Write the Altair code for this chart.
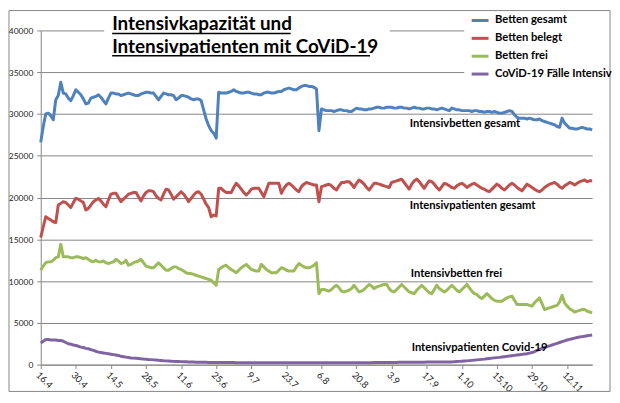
import altair as alt
import pandas as pd

# ---------------- data ----------------
tick_labels = ["16.4", "30.4", "14.5", "28.5", "11.6", "25.6", "9.7", "23.7",
               "6.8", "20.8", "3.9", "17.9", "1.10", "15.10", "29.10", "12.11"]

series_names = ["Betten gesamt", "Betten belegt", "Betten frei", "CoViD-19 Fälle Intensiv"]

betten_gesamt = [
    26600, 28500, 30000, 30100, 29800, 29300, 31700, 32200, 33800, 32500,
    32400, 31900, 31600, 32200, 32900, 32600, 32300, 31800, 31200, 31300,
    31900, 32000, 32100, 32300, 32000, 31600, 31200, 31900, 32500, 32500,
    32400, 32400, 32200, 32300, 32400, 32500, 32400, 32300, 32200, 32200,
    32400, 32500, 32600, 32600, 32500, 32500, 32100, 31700, 32100, 32500,
    32400, 32300, 32300, 32200, 31700, 31900, 32200, 32200, 32100, 32000,
    31800, 31700, 31800, 31800, 31600, 30500, 29400, 28600, 28000, 27700,
    27100, 32600, 32500, 32500, 32500, 32600, 32700, 32900, 32700, 32600,
    32500, 32500, 32600, 32600, 32500, 32400, 32400, 32300, 32300, 32500,
    32600, 32600, 32500, 32500, 32600, 32700, 32700, 32900, 33000, 33100,
    33000, 32900, 32900, 33100, 33300, 33400, 33400, 33300, 33300, 33200,
    33000, 28000, 30600, 30500, 30400, 30400, 30400, 30300, 30400, 30500,
    30500, 30400, 30400, 30300, 30300, 30500, 30700, 30600, 30600, 30500,
    30500, 30600, 30600, 30700, 30800, 30800, 30700, 30700, 30800, 30800,
    30800, 30700, 30700, 30800, 30800, 30700, 30700, 30600, 30700, 30800,
    30700, 30700, 30600, 30600, 30700, 30700, 30600, 30600, 30500, 30600,
    30700, 30600, 30500, 30400, 30700, 30600, 30500, 30500, 30400, 30400,
    30400, 30400, 30300, 30400, 30400, 30300, 30300, 30200, 30300, 30300,
    30200, 30300, 30200, 30100, 30100, 30200, 30300, 30400, 30300, 29900,
    29600, 29500, 29500, 29500, 29400, 29500, 29400, 29300, 29300, 29400,
    29200, 29100, 29000, 28900, 28800, 28700, 28500, 28400, 29500, 28900,
    28600, 28300, 28300, 28200, 28200, 28300, 28400, 28300, 28200, 28200,
    28100,
]

betten_belegt = [
    15200, 16500, 17700, 17500, 17300, 17100, 17000, 19100, 19300, 19500,
    19400, 19100, 18800, 19400, 19900, 19800, 19600, 19400, 18500, 18700,
    19100, 19500, 19700, 19900, 19600, 19200, 18900, 19700, 20400, 20500,
    20500, 20000, 19500, 19800, 20100, 20400, 20500, 20600, 20600, 20100,
    19600, 20200, 20600, 20800, 20800, 20700, 20200, 19900, 19700, 20400,
    21000, 20900, 20400, 19800, 20100, 20400, 20700, 20400, 20000, 19500,
    19900, 20300, 20600, 20700, 20400, 19800, 19200, 18800, 17700, 17900,
    17800, 21100, 21100, 20800, 20600, 20600, 20600, 21200, 21700, 21400,
    21000, 20600, 20300, 20600, 21000, 21100, 21100, 21100, 20600, 20100,
    20900, 21700, 21700, 21700, 21700, 21700, 20500, 21100, 21500, 21700,
    21500, 21200, 20900, 20700, 21300, 21600, 21800, 21700, 21600, 21500,
    21500, 19500, 21300, 21400, 21500, 21600, 21400, 21100, 20900, 21400,
    21800, 21800, 21900, 21900, 21600, 21200, 21700, 22100, 21900, 21600,
    21200, 20900, 21300, 21700, 21700, 21600, 21500, 21400, 21300, 21200,
    21800, 21900, 22000, 22100, 22200, 21800, 21400, 21000, 21600, 22000,
    22200, 21900, 21500, 21100, 21600, 22000, 21900, 21600, 21200, 20900,
    21300, 21700, 21600, 21400, 21200, 21100, 21400, 21600, 21700, 21500,
    21200, 21400, 21600, 21700, 21500, 21300, 21100, 21000, 20800, 20700,
    21000, 21300, 21600, 21400, 21100, 20900, 21200, 21500, 21700, 21500,
    21200, 21000, 20800, 21200, 21600, 21400, 21200, 21000, 20800, 20700,
    20900, 21200, 21400, 21600, 21700, 21800, 21600, 21300, 21100, 21400,
    21600, 21800, 21700, 21500, 21700, 21900, 22000, 22100, 21900, 22000,
    22000,
]

betten_frei = [
    11300, 11800, 12200, 12300, 12300, 12500, 12800, 12900, 14400, 12900,
    12900, 12900, 12800, 12800, 12900, 12900, 12800, 12700, 12800, 12600,
    12400, 12300, 12500, 12300, 12300, 12400, 12200, 12100, 12200, 12300,
    12600, 12400, 12100, 12200, 12500, 11900, 12000, 12200, 12300, 12400,
    12600, 12200, 11800, 11700, 11600, 11600, 11900, 12200, 11900, 11600,
    11300, 11300, 11500, 11700, 11700, 11500, 11400, 11200, 11000, 10900,
    10900, 10800, 10700, 10600, 10500, 10400, 10300, 10200, 10100, 9800,
    9500, 11400, 11600, 11800, 11900, 11600, 11400, 11200, 11000, 11300,
    11600, 11800, 12000, 11700, 11400, 11300, 11200, 11200, 12000, 11700,
    11400, 11200, 11000, 11000, 11000, 11300, 11600, 11500, 11300, 11200,
    11200, 11200, 11700, 12100, 11900, 11700, 11600, 11600, 11700, 11900,
    12200, 8500, 9000, 9000, 8900, 8800, 9000, 9300, 9500, 9200,
    8800, 8700, 8800, 8900, 9100, 9500, 9100, 8700, 8800, 9000,
    9300, 9600, 9400, 9100, 9300, 9400, 9500, 9600, 9600, 9100,
    8800, 8700, 9000, 9300, 9600, 9300, 9000, 8700, 8600, 8500,
    8900, 9200, 9500, 9200, 8900, 8600, 8500, 9000, 9500, 9100,
    8900, 8700, 8900, 9200, 9500, 9200, 8900, 8700, 9000, 9300,
    9600, 9200, 8800, 8500, 8400, 8100, 7900, 8200, 8500, 8200,
    7900, 7700, 7600, 7600, 7600, 7800, 8000, 8100, 8200, 7700,
    7200, 7200, 7200, 7200, 7200, 7100, 7000, 7400, 7700, 8000,
    7300, 6600, 6700, 6800, 6900, 7000, 7100, 7500, 8300, 7400,
    7000, 6700, 6500, 6300, 6400, 6500, 6600, 6600, 6400, 6300,
    6200,
]

covid_intensiv = [
    2600, 2800, 3000, 3000, 2950, 2950, 2950, 2900, 2900, 2800,
    2650, 2500, 2450, 2350, 2300, 2200, 2100, 2050, 1950, 1900,
    1800, 1700, 1600, 1500, 1450, 1400, 1350, 1300, 1250, 1200,
    1150, 1100, 1000, 950, 900, 850, 800, 780, 760, 740,
    700, 670, 650, 620, 600, 570, 550, 520, 500, 470,
    450, 430, 410, 390, 380, 370, 360, 350, 340, 330,
    320, 310, 300, 290, 290, 280, 280, 270, 270, 260,
    260, 250, 250, 250, 250, 250, 250, 250, 240, 240,
    240, 240, 240, 230, 230, 230, 230, 230, 230, 230,
    230, 230, 230, 230, 230, 230, 230, 230, 230, 230,
    230, 230, 230, 230, 230, 230, 230, 230, 230, 230,
    230, 230, 230, 230, 230, 220, 220, 220, 230, 230,
    230, 230, 230, 230, 230, 230, 240, 240, 240, 240,
    240, 240, 240, 250, 250, 250, 250, 260, 260, 260,
    260, 270, 270, 280, 280, 290, 290, 290, 300, 300,
    290, 300, 300, 300, 310, 310, 310, 320, 320, 320,
    320, 320, 330, 330, 330, 350, 370, 390, 410, 430,
    450, 480, 510, 540, 570, 600, 630, 660, 700, 740,
    780, 810, 840, 870, 910, 950, 990, 1030, 1070, 1110,
    1150, 1190, 1230, 1270, 1310, 1380, 1450, 1570, 1700, 1820,
    1950, 2050, 2150, 2250, 2350, 2450, 2550, 2650, 2750, 2850,
    2950, 3030, 3100, 3180, 3250, 3300, 3350, 3400, 3450, 3500,
    3550,
]

annotations = ["Intensivbetten gesamt", "Intensivpatienten gesamt",
               "Intensivbetten  frei", "Intensivpatienten Covid-19"]
title_lines = ["Intensivkapazität und", "Intensivpatienten mit CoViD-19"]

# ---------------- build ----------------
colors = ["#4F81BD", "#C0504D", "#9BBB59", "#8064A2"]
FONT = "Lato"
GRAY = "#868686"

frames = []
for name, vals in zip(series_names, [betten_gesamt, betten_belegt, betten_frei, covid_intensiv]):
    frames.append(pd.DataFrame({"day": list(range(len(vals))), "value": vals, "series": name}))
df = pd.concat(frames, ignore_index=True)
n_days = len(betten_gesamt) - 1

label_js = "[" + ",".join("'" + t + "'" for t in tick_labels) + "]"

x_enc = alt.X(
    "day:Q",
    scale=alt.Scale(domain=[0, n_days], nice=False, zero=False),
    axis=alt.Axis(
        values=[14 * i for i in range(len(tick_labels))],
        labelExpr=label_js + "[round(datum.value/14)]",
        labelAngle=45, grid=False, title=None,
        domainColor=GRAY, tickColor=GRAY, tickSize=4,
        labelFont=FONT, labelFontSize=9.5, labelColor="#222", labelPadding=1,
    ),
)
y_enc = alt.Y(
    "value:Q",
    scale=alt.Scale(domain=[0, 40000], nice=False),
    axis=alt.Axis(
        values=list(range(0, 40001, 5000)), format="d", title=None,
        grid=True, gridColor=GRAY, gridWidth=1,
        domainColor=GRAY, tickColor=GRAY, tickSize=4,
        labelFont=FONT, labelFontSize=8.5, labelColor="#222", labelPadding=4,
    ),
)

lines = alt.Chart(df).mark_line(strokeWidth=3, strokeJoin="round").encode(
    x=x_enc,
    y=y_enc,
    color=alt.Color(
        "series:N",
        scale=alt.Scale(domain=series_names, range=colors),
        legend=alt.Legend(
            title=None, orient="none", legendX=433, legendY=-20,
            symbolType="stroke", symbolSize=289, symbolStrokeWidth=3,
            labelFont=FONT, labelFontWeight="bold", labelFontSize=11.3,
            labelColor="black", labelOffset=5, rowPadding=2, padding=0,
            labelLimit=200,
        ),
    ),
)

one = pd.DataFrame({"k": [0]})

title_box = alt.Chart(one).mark_rect(color="white").encode(
    x=alt.value(64), x2=alt.value(352), y=alt.value(-19), y2=alt.value(27))
legend_box = alt.Chart(one).mark_rect(color="white").encode(
    x=alt.value(427), x2=alt.value(572), y=alt.value(-19), y2=alt.value(52))

title1 = alt.Chart(one).mark_text(
    text=title_lines[0], font=FONT, fontWeight="bold", fontSize=19,
    align="left", baseline="alphabetic", color="black",
).encode(x=alt.value(72), y=alt.value(-0.5))
title2 = alt.Chart(one).mark_text(
    text=title_lines[1], font=FONT, fontWeight="bold", fontSize=19,
    align="left", baseline="alphabetic", color="black",
).encode(x=alt.value(72), y=alt.value(22.7))
ul1 = alt.Chart(one).mark_rule(color="black", strokeWidth=1.5).encode(
    x=alt.value(72), x2=alt.value(252), y=alt.value(3))
ul2 = alt.Chart(one).mark_rule(color="black", strokeWidth=1.5).encode(
    x=alt.value(72), x2=alt.value(332), y=alt.value(25.5))

ann_y = [94, 177, 246, 320]
ann_x = [372, 372, 373, 374]
ann_layers = []
for txt, ax, ay in zip(annotations, ann_x, ann_y):
    ann_layers.append(
        alt.Chart(one).mark_text(
            text=txt, font=FONT, fontWeight="bold", fontSize=11.3,
            align="left", baseline="middle", color="black",
        ).encode(x=alt.value(ax), y=alt.value(ay))
    )

border = alt.Chart(one).mark_rect(fill="transparent", stroke=GRAY, strokeWidth=1).encode(
    x=alt.value(-32), x2=alt.value(574), y=alt.value(-20), y2=alt.value(364))

chart = alt.layer(
    title_box, legend_box, lines, title1, title2, ul1, ul2, *ann_layers, border
).properties(
    width=556, height=337,
    autosize=alt.AutoSizeParams(type="none"),
    padding={"left": 33, "top": 21, "right": 20, "bottom": 28},
    background="white",
).configure_view(stroke=None)

chart.save("out.html", embed_options={"renderer": "svg", "actions": False})
